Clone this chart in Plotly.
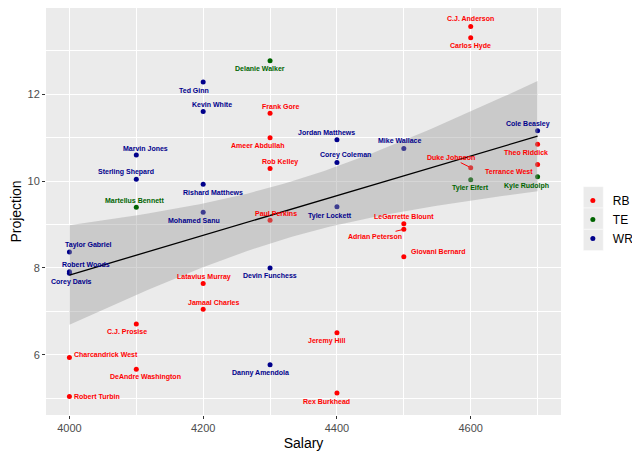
import numpy as np
import plotly.graph_objects as go

# Player data
players = ["C.J. Anderson", "Carlos Hyde", "Frank Gore", "Ameer Abdullah", "Rob Kelley",
           "Paul Perkins", "Duke Johnson", "Theo Riddick", "Terrance West", "LeGarrette Blount",
           "Adrian Peterson", "Giovani Bernard", "Latavius Murray", "Jamaal Charles", "C.J. Prosise",
           "Charcandrick West", "DeAndre Washington", "Robert Turbin", "Jeremy Hill", "Rex Burkhead",
           "Delanie Walker", "Martellus Bennett", "Tyler Eifert", "Kyle Rudolph",
           "Ted Ginn", "Kevin White", "Marvin Jones", "Sterling Shepard", "Rishard Matthews",
           "Mohamed Sanu", "Jordan Matthews", "Corey Coleman", "Mike Wallace", "Cole Beasley",
           "Tyler Lockett", "Taylor Gabriel", "Robert Woods", "Corey Davis", "Devin Funchess",
           "Danny Amendola"]
positions = ["RB"] * 20 + ["TE"] * 4 + ["WR"] * 16
salary = [4600, 4600, 4300, 4300, 4300,
          4300, 4600, 4700, 4700, 4500,
          4500, 4500, 4200, 4200, 4100,
          4000, 4100, 4000, 4400, 4400,
          4300, 4100, 4600, 4700,
          4200, 4200, 4100, 4100, 4200,
          4200, 4400, 4400, 4500, 4700,
          4400, 4000, 4000, 4000, 4300,
          4300]
projection = [13.56, 13.30, 11.56, 11.00, 10.29,
              9.10, 10.31, 10.85, 10.38, 9.02,
              8.89, 8.26, 7.64, 7.05, 6.71,
              5.94, 5.67, 5.04, 6.51, 5.12,
              12.77, 9.40, 10.03, 10.10,
              12.28, 11.60, 10.60, 10.04, 9.93,
              9.28, 10.95, 10.43, 10.75, 11.16,
              9.41, 8.37, 7.91, 7.88, 8.00,
              5.77]

pos_order = ["RB", "TE", "WR"]
pos_colors = {"RB": "#ff0000", "TE": "#006400", "WR": "#00008b"}

# label offsets in pixels (dx, dy down-positive), repel-style placement
label_offsets = {
    "C.J. Anderson": (0, -8), "Carlos Hyde": (0, 8), "Frank Gore": (10, -7),
    "Ameer Abdullah": (-13, 8), "Rob Kelley": (10, -7), "Paul Perkins": (6, -7),
    "Theo Riddick": (-12, 8), "Terrance West": (-29, 7), "LeGarrette Blount": (0, -7),
    "Giovani Bernard": (34, -5), "Latavius Murray": (1, -7), "Jamaal Charles": (10, -7),
    "C.J. Prosise": (-9, 8), "Charcandrick West": (37, -3), "DeAndre Washington": (9, 8),
    "Robert Turbin": (28, 0), "Jeremy Hill": (-10, 8), "Rex Burkhead": (-10, 8),
    "Delanie Walker": (-10, 8), "Martellus Bennett": (-2, -7), "Tyler Eifert": (0, 8),
    "Kyle Rudolph": (-11, 9), "Ted Ginn": (-9, 8), "Kevin White": (9, -7),
    "Marvin Jones": (9, -7), "Sterling Shepard": (-10, -7), "Rishard Matthews": (10, 8),
    "Mohamed Sanu": (-9, 8), "Jordan Matthews": (-10, -7), "Corey Coleman": (9, -7),
    "Mike Wallace": (-4, -8), "Cole Beasley": (-10, -7), "Tyler Lockett": (-7, 9),
    "Taylor Gabriel": (19, -7), "Robert Woods": (17, -7), "Corey Davis": (2, 9),
    "Devin Funchess": (0, 8), "Danny Amendola": (-10, 8),
}
# labels pushed far enough to get a connecting segment
segment_labels = {"Duke Johnson": (-20, -10), "Adrian Peterson": (-29, 7)}

x = np.array(salary, dtype=float)
y = np.array(projection, dtype=float)

# linear fit with 95% confidence band (like geom_smooth(method="lm"))
n = len(x)
b1, b0 = np.polyfit(x, y, 1)
resid = y - (b0 + b1 * x)
s = np.sqrt(np.sum(resid ** 2) / (n - 2))
sxx = np.sum((x - x.mean()) ** 2)
t_crit = 2.024
xs = np.linspace(x.min(), x.max(), 80)
fit = b0 + b1 * xs
se = s * np.sqrt(1 / n + (xs - x.mean()) ** 2 / sxx)
lower = fit - t_crit * se
upper = fit + t_crit * se

fig = go.Figure()

for p in pos_order:
    idx = [i for i, q in enumerate(positions) if q == p]
    fig.add_trace(go.Scatter(
        x=[salary[i] for i in idx], y=[projection[i] for i in idx],
        mode="markers", name=p, legendgroup=p,
        marker=dict(color=pos_colors[p], size=5),
    ))

fig.add_trace(go.Scatter(x=xs, y=lower, mode="lines", line=dict(width=0),
                         showlegend=False, hoverinfo="skip"))
fig.add_trace(go.Scatter(x=xs, y=upper, mode="lines", line=dict(width=0),
                         fill="tonexty", fillcolor="rgba(153,153,153,0.4)",
                         showlegend=False, hoverinfo="skip"))
fig.add_trace(go.Scatter(x=xs, y=fit, mode="lines", line=dict(color="black", width=1.3),
                         showlegend=False, hoverinfo="skip"))

for name, sx, py, p in zip(players, salary, projection, positions):
    col = pos_colors[p]
    if name in segment_labels:
        ax, ay = segment_labels[name]
        fig.add_annotation(x=sx, y=py, text=name, showarrow=True, arrowhead=0,
                           arrowwidth=1, arrowcolor=col, ax=ax, ay=ay, standoff=2,
                           font=dict(family="Liberation Sans", size=7, color=col, weight="bold"))
    else:
        dx, dy = label_offsets[name]
        fig.add_annotation(x=sx, y=py, text=name, showarrow=False,
                           xshift=dx, yshift=-dy,
                           font=dict(family="Liberation Sans", size=7, color=col, weight="bold"))

# gray legend key boxes (page has an 8px body margin; panel spans 46..561 x 8..415 on screen)
for k in range(3):
    fig.add_shape(type="rect", xref="paper", yref="paper",
                  x0=(583.3 - 46) / 515, x1=(603.3 - 46) / 515,
                  y0=(415 - 186.7 - 21.3 * (k + 1)) / 407, y1=(415 - 186.7 - 21.3 * k) / 407,
                  fillcolor="#ebebeb", line=dict(color="white", width=0.5), layer="below")

xr = [x.min() - 0.05 * (x.max() - x.min()), x.max() + 0.05 * (x.max() - x.min())]
yr = [y.min() - 0.05 * (y.max() - y.min()), y.max() + 0.05 * (y.max() - y.min())]

axis_common = dict(
    showgrid=True, gridcolor="white", gridwidth=1.1, zeroline=False,
    ticks="outside", ticklen=3, tickcolor="#333333", tickwidth=1,
    tickfont=dict(family="Liberation Sans", size=11, color="#4d4d4d"),
    showline=False, automargin=False,
)

fig.update_layout(
    width=632, height=449,
    margin=dict(l=38, r=79, t=0, b=42, autoexpand=False),
    paper_bgcolor="white", plot_bgcolor="#ebebeb",
    font=dict(family="Liberation Sans"),
    showlegend=True,
    legend=dict(x=1.023, xanchor="left", y=(415 - 219.5) / 407, yanchor="middle",
                font=dict(size=12, color="black"), bgcolor="rgba(0,0,0,0)",
                itemwidth=30, tracegroupgap=2, traceorder="normal"),
    xaxis=dict(range=xr, tickvals=[4000, 4200, 4400, 4600],
               minor=dict(showgrid=True, gridcolor="white", gridwidth=0.5, dtick=100, tick0=4000),
               title=dict(text="Salary", font=dict(size=14, color="black"), standoff=4),
               **axis_common),
    yaxis=dict(range=yr, tickvals=[6, 8, 10, 12],
               minor=dict(showgrid=True, gridcolor="white", gridwidth=0.5, dtick=1, tick0=4),
               title=dict(text="Projection", font=dict(size=14, color="black"), standoff=4),
               **axis_common),
)

fig.write_html("out.html")
